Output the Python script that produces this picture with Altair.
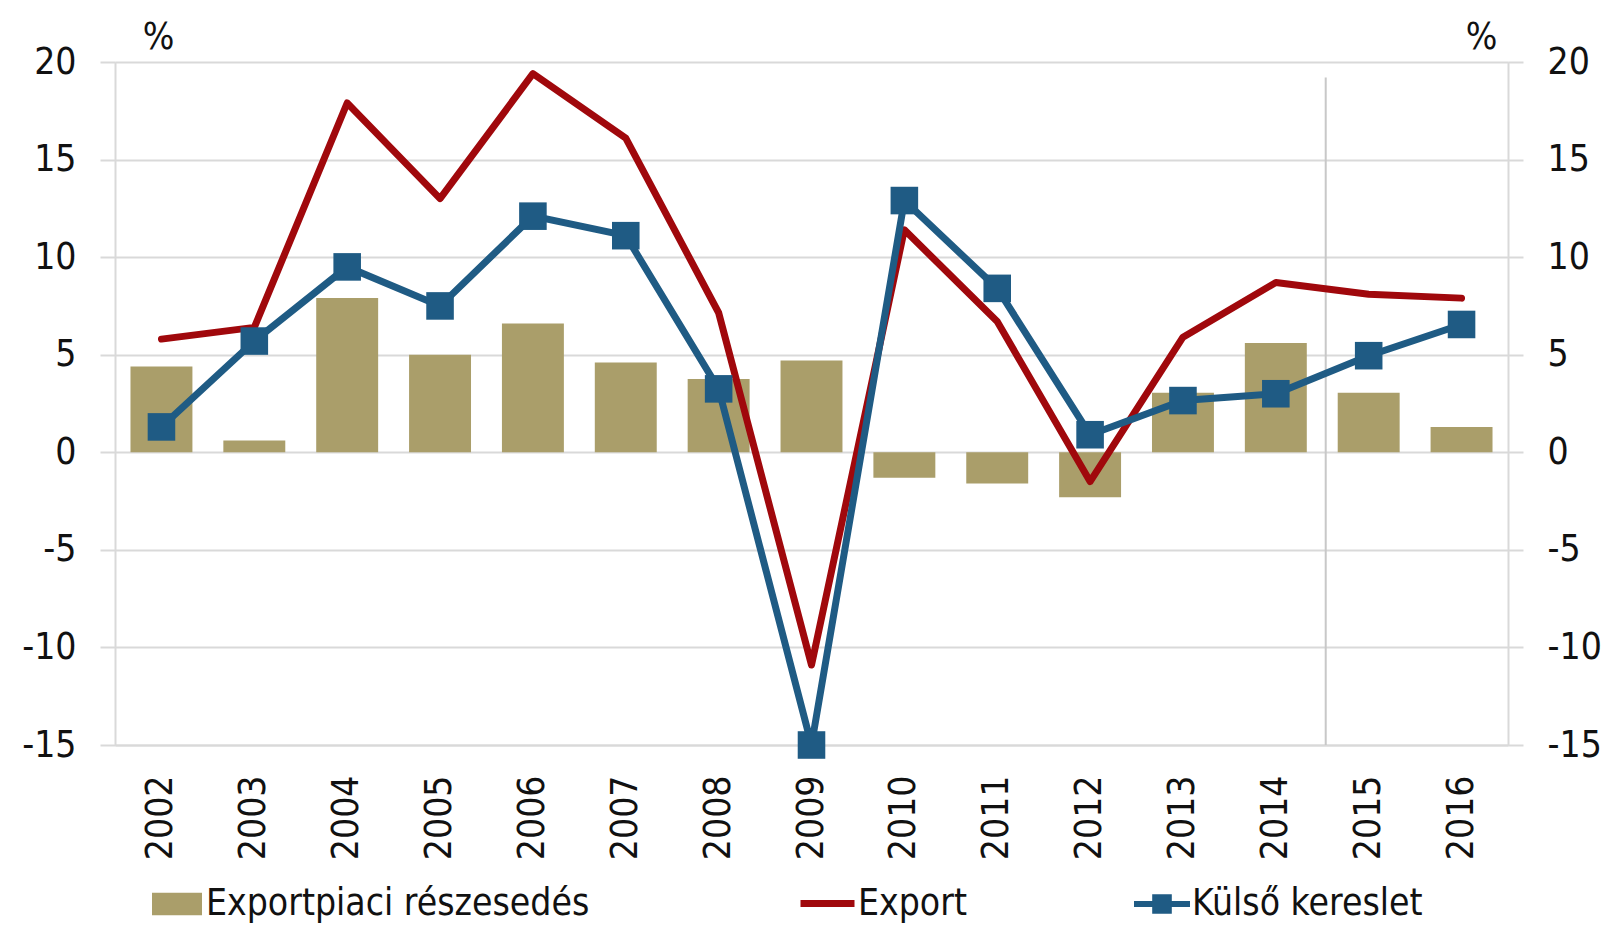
import altair as alt
import pandas as pd

years = ["2002", "2003", "2004", "2005", "2006", "2007", "2008", "2009",
         "2010", "2011", "2012", "2013", "2014", "2015", "2016"]
share = [4.4, 0.6, 7.9, 5.0, 6.6, 4.6, 3.75, 4.7, -1.3, -1.6, -2.3, 3.05, 5.6, 3.05, 1.3]
export = [5.8, 6.4, 17.9, 13.0, 19.4, 16.1, 7.15, -10.9, 11.4, 6.7, -1.5, 5.9, 8.7, 8.1, 7.9]
demand = [1.3, 5.7, 9.5, 7.5, 12.1, 11.1, 3.25, -15.0, 12.9, 8.4, 0.9, 2.65, 3.0, 4.95, 6.55]
ticks = [-15, -10, -5, 0, 5, 10, 15, 20]

lab_share = "Exportpiaci részesedés"
lab_export = "Export"
lab_demand = "Külső kereslet"

TAN = "#aa9e6a"
RED = "#a0080c"
BLUE = "#1f5b84"
GRID = "#d9d9d9"
TXT = "#111111"
FONT = "DejaVu Sans Condensed, DejaVu Sans"
FS = 37

df = pd.DataFrame({
    "year": years, "share": share, "export": export, "demand": demand,
    "s1": lab_share, "s2": lab_export, "s3": lab_demand,
})
sep_df = pd.DataFrame({"year": ["2015"], "top": [19.2], "bottom": [-15.0]})

yscale = alt.Scale(domain=[-15, 20], nice=False, zero=False)
xenc = alt.X("year:N", sort=years, title=None,
             scale=alt.Scale(paddingInner=0.333, paddingOuter=0.1667),
             axis=alt.Axis(labelAngle=-90, labelFont=FONT, labelFontSize=FS,
                           labelColor=TXT, labelPadding=30, ticks=False,
                           domainColor=GRID, domainWidth=2, grid=False))

def yaxis(orient, title_x, grid):
    return alt.Axis(orient=orient, values=ticks,
                    labelExpr="'' + datum.value",
                    labelFont=FONT, labelFontSize=FS, labelColor=TXT,
                    labelPadding=24, tickSize=15, tickColor=GRID, tickWidth=2,
                    domainColor=GRID, domainWidth=2,
                    grid=grid, gridColor=GRID, gridWidth=2,
                    title="%", titleAngle=0, titleFont=FONT, titleFontSize=FS,
                    titleFontWeight="normal", titleColor=TXT,
                    titleX=title_x, titleY=-14, titleAlign="center",
                    titleBaseline="alphabetic")

def leg(x, y, sym, size, offset=4, **kw):
    return alt.Legend(title=None, orient="none", legendX=x, legendY=y,
                      symbolType=sym, symbolSize=size, labelFont=FONT,
                      labelFontSize=FS, labelColor=TXT, labelOffset=offset,
                      labelLimit=0, padding=0, **kw)

base = alt.Chart(df)

bars = base.mark_bar().encode(
    x=xenc,
    y=alt.Y("share:Q", scale=yscale, axis=yaxis("left", 43, True)),
    color=alt.Color("s1:N", scale=alt.Scale(domain=[lab_share], range=[TAN]),
                    legend=leg(37, 817, "M-1,-0.45L1,-0.45L1,0.45L-1,0.45Z", 2500,
                               symbolStrokeWidth=0)),
)

red = base.mark_line(strokeWidth=7, strokeCap="round", strokeJoin="round").encode(
    x=xenc,
    y=alt.Y("export:Q", scale=yscale),
    color=alt.Color("s2:N", scale=alt.Scale(domain=[lab_export], range=[RED]),
                    legend=leg(682, 811, "stroke", 2916, offset=0,
                               symbolStrokeWidth=7)),
)

blue_line = base.mark_line(strokeWidth=7, color=BLUE, strokeJoin="miter").encode(
    x=xenc,
    y=alt.Y("demand:Q", scale=yscale),
)

blue_pts = base.mark_square(size=760, opacity=1, filled=True).encode(
    x=xenc,
    y=alt.Y("demand:Q", scale=yscale),
    color=alt.Color("s3:N", scale=alt.Scale(domain=[lab_demand], range=[BLUE]),
                    legend=leg(1019, 814,
                               "M-1,-0.11L-0.35,-0.11L-0.35,-0.35L0.35,-0.35L0.35,-0.11L1,-0.11L1,0.11L0.35,0.11L0.35,0.35L-0.35,0.35L-0.35,0.11L-1,0.11Z",
                               3136, offset=2, symbolStrokeWidth=0)),
)

sep = alt.Chart(sep_df).mark_rule(color="#c8c8c8", strokeWidth=2).encode(
    x=alt.X("year:N", sort=years, bandPosition=0),
    y=alt.Y("top:Q", scale=yscale),
    y2="bottom:Q",
    xOffset=alt.value(-12),
)

main = alt.layer(bars, sep, red, blue_line, blue_pts).resolve_scale(color="independent")

right = base.mark_point(opacity=0).encode(
    x=xenc,
    y=alt.Y("share:Q", scale=yscale, axis=yaxis("right", -27, False)),
)

chart = alt.layer(main, right).resolve_scale(y="independent").properties(
    width=1393, height=683,
    autosize=alt.AutoSizeParams(type="none"),
    padding={"left": 107, "top": 54, "right": 96, "bottom": 180},
).configure_view(stroke=None).configure(background="white")

chart.save("out.html", embed_options={"renderer": "svg", "actions": False})
